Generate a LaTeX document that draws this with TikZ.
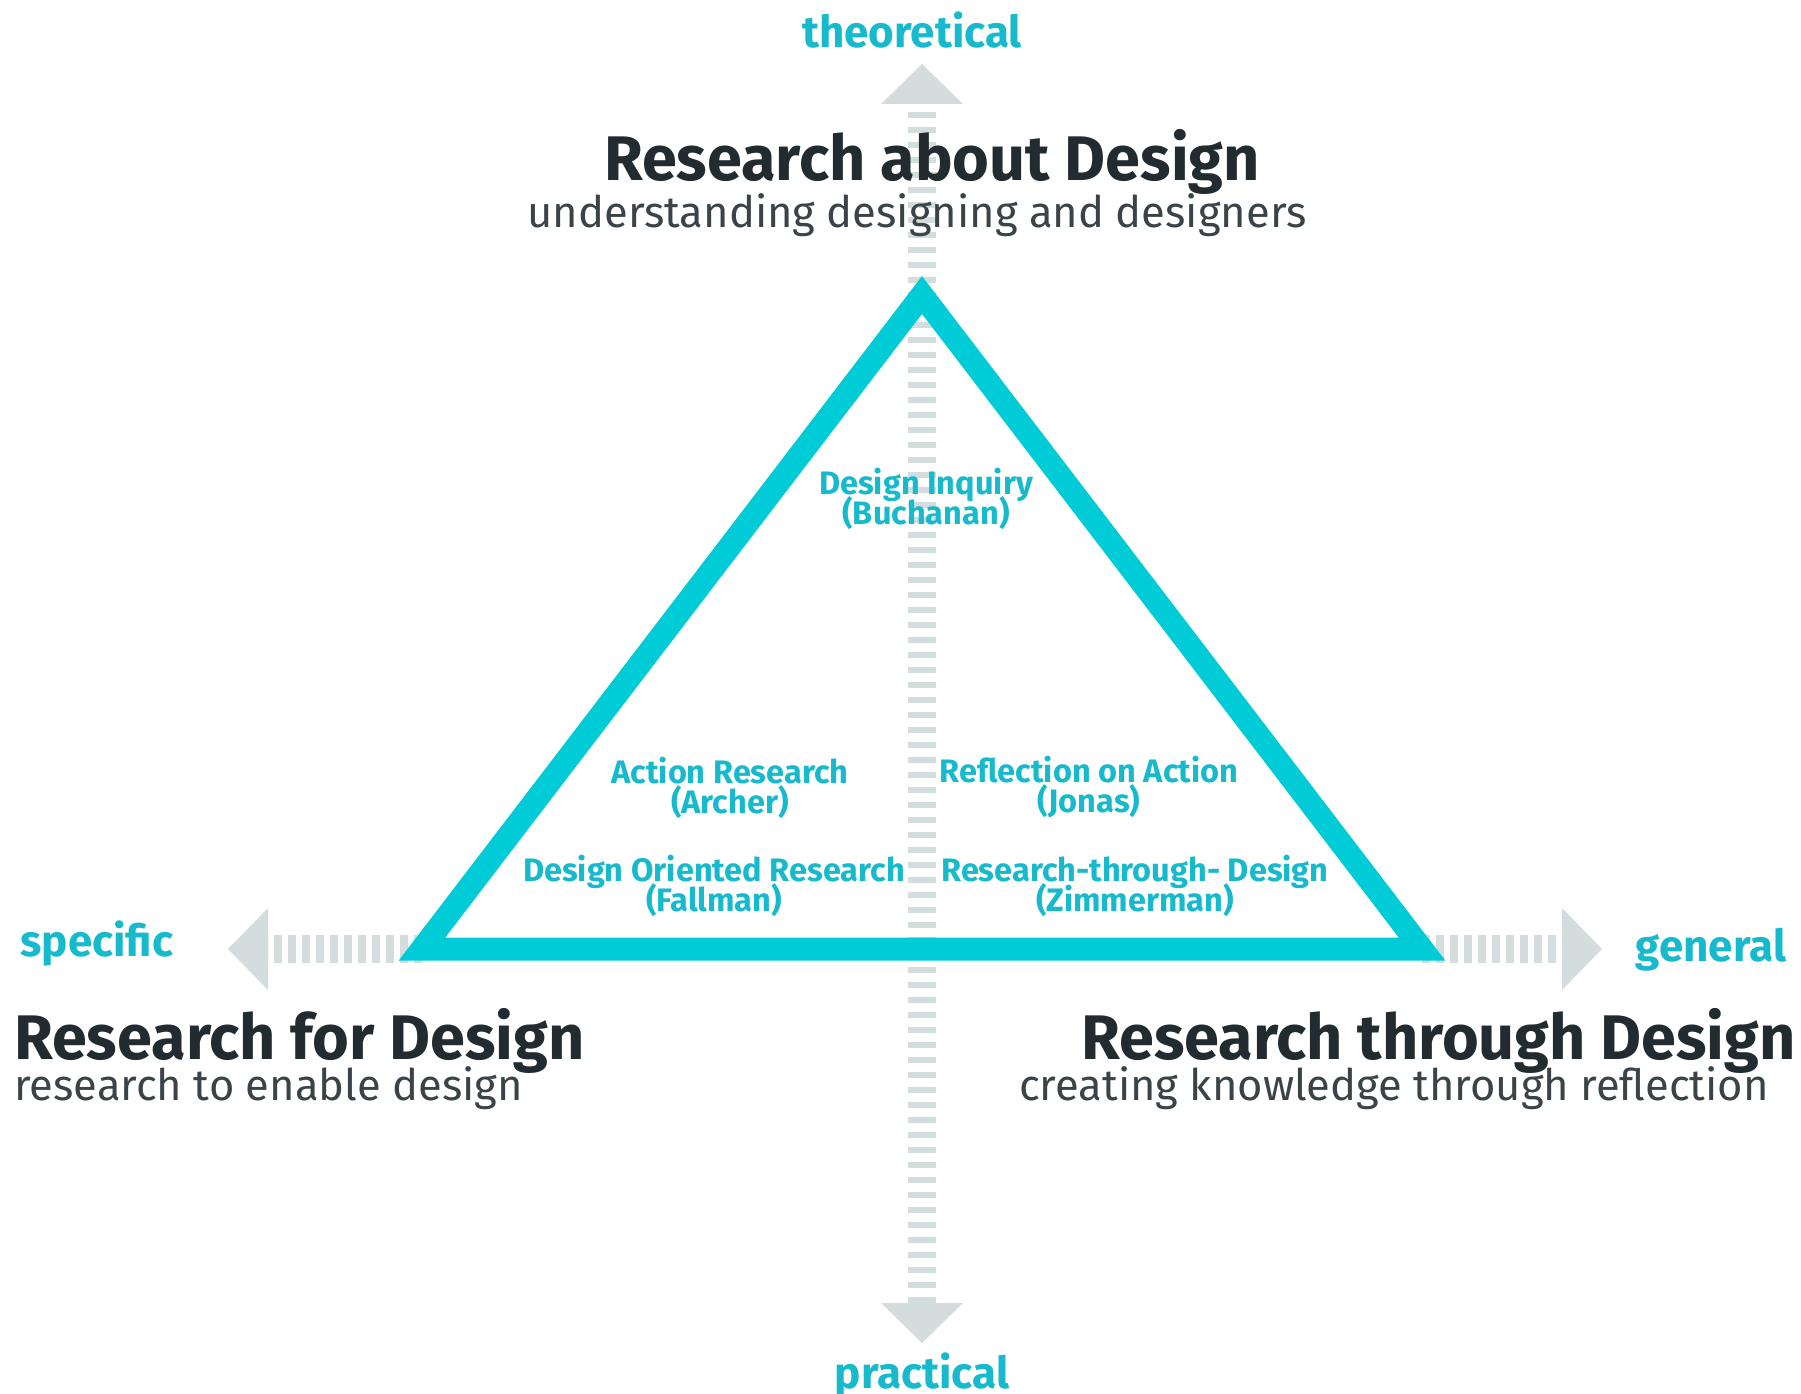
\documentclass[tikz,border=0pt]{standalone}
\usepackage{fontspec}
\setmainfont{Fira Sans}
\usetikzlibrary{arrows.meta}
\definecolor{trianglecyan}{RGB}{0,204,216}
\definecolor{labelcyan}{RGB}{22,186,204}
\definecolor{axisgray}{RGB}{212,221,222}
\definecolor{titledark}{RGB}{33,43,48}
\definecolor{subdark}{RGB}{58,68,72}
\newcommand{\approachfont}{\fontsize{32.5}{30}\selectfont\lineskiplimit-20pt\relax\bfseries}
\tikzset{
        axistip/.tip={Triangle[length=40pt,width=82pt,line width=0pt 0 0]},
        axisline/.style={axisgray, line width=28pt},
        vdash/.style={axisline, dash pattern=on 6pt off 9pt},
        hdash/.style={axisline, dash pattern=on 8pt off 6pt},
        axislabel/.style={text=labelcyan, inner sep=0pt, anchor=base, font=\fontsize{44}{44}\selectfont\bfseries},
        maintitle/.style={text=titledark, inner sep=0pt, font=\fontsize{63}{63}\selectfont\bfseries},
        subtitle/.style={text=subdark, inner sep=0pt, font=\fontsize{43.5}{44}\selectfont},
        approach/.style={text=labelcyan, inner sep=0pt, anchor=base, align=center, font=\approachfont}
}
\begin{document}
\begin{tikzpicture}[x=1pt,y=-1pt]
        \useasboundingbox (0,0) rectangle (1801,1394);
        \coordinate (apex) at (922,295);
        \coordinate (bl) at (422,949);
        \coordinate (br) at (1422,949);
        \coordinate (top) at (922,64);
        \coordinate (bottom) at (922,1343);
        \coordinate (left) at (228,949);
        \coordinate (right) at (1602,949);

        % axes
        \draw[vdash, axistip-axistip] (bottom) -- (top);
        \draw[hdash, -axistip] (bl) -- (left);
        \draw[hdash, -axistip] (br) -- (right);

        \draw[trianglecyan, line width=23pt] (apex) -- (br) -- (bl) -- cycle;

        \node[axislabel] (theoretical) at (912,48) {theoretical};
        \node[axislabel] (practical) at (922,1388) {practical};
        \node[axislabel] (specific) at (97,956) {specific};
        \node[axislabel] (general) at (1711,961) {general};

        \node[maintitle, anchor=base] (about) at (932,180) {Research about Design};
        \node[subtitle, anchor=base] (aboutsub) at (917,227) {understanding designing and designers};
        \node[maintitle, anchor=base west] (for) at (14,1059) {Research for Design};
        \node[subtitle, anchor=base west] (forsub) at (14,1100) {research to enable design};
        \node[maintitle, anchor=base east] (through) at (1796,1059) {Research through Design};
        \node[subtitle, anchor=base east] (throughsub) at (1769,1100) {creating knowledge through reflection};

        % second line baselines
        \node[approach] (inquiry) at (926,524) {Design Inquiry\\(Buchanan)};
        \node[approach] (action) at (730,813) {Action Research\\(Archer)};
        \node[approach] (reflection) at (1089,812) {Reflection on Action\\(Jonas)};
        \node[approach] (oriented) at (714,911) {Design Oriented Research\\(Fallman)};
        \node[approach] (rtd) at (1135,911) {Research-through- Design\\(Zimmerman)};
\end{tikzpicture}
\end{document}
